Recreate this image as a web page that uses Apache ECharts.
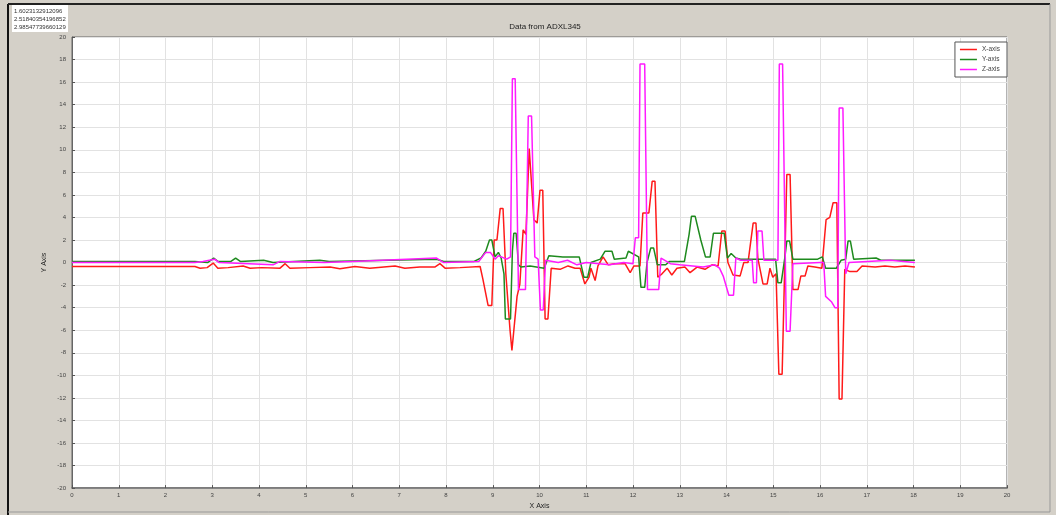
<!DOCTYPE html>
<html>
<head>
<meta charset="utf-8">
<script src="https://cdn.jsdelivr.net/npm/echarts@6/dist/echarts.min.js"></script>
<style>
  html, body { margin: 0; padding: 0; background: #d4d0c8; }
  #chart { width: 1056px; height: 515px; }
</style>
</head>
<body>
<div id="chart"></div>
<script>
var seriesNames = ['X-axis', 'Y-axis', 'Z-axis'];
var readout = ['1.6023132912096', '2.51840354196852', '2.98547739660129'];

// [time, value] pairs
var accX = [
  [0, -0.35], [2.63, -0.35], [2.74, -0.5], [2.89, -0.45], [3.02, -0.05], [3.12, -0.5],
  [3.34, -0.45], [3.66, -0.3], [3.81, -0.5], [4.06, -0.45], [4.45, -0.5], [4.56, -0.1],
  [4.66, -0.5], [5.09, -0.45], [5.52, -0.4], [5.73, -0.55], [6.05, -0.35], [6.37, -0.5],
  [6.91, -0.3], [7.12, -0.5], [7.44, -0.4], [7.76, -0.4], [7.87, -0.1], [7.98, -0.5],
  [8.3, -0.45], [8.73, -0.35], [8.79, -1.5], [8.9, -3.8], [8.98, -3.8], [9.03, 2.0],
  [9.09, 2.0], [9.16, 4.8], [9.22, 4.8], [9.28, -1.0], [9.37, -6.0], [9.41, -7.8],
  [9.45, -7.8], [9.52, -3.0], [9.58, -1.9], [9.65, 2.9], [9.71, 2.5], [9.78, 10.1],
  [9.82, 10.1], [9.88, 3.8], [9.95, 3.5], [10.01, 6.4], [10.07, 6.4], [10.12, -5.0],
  [10.18, -5.0], [10.25, -0.5], [10.44, -0.6], [10.61, -0.3], [10.76, -0.5], [10.87, -0.5],
  [10.97, -1.9], [11.06, -1.3], [11.1, -0.5], [11.19, -1.6], [11.25, -0.3], [11.36, 0.5],
  [11.47, -0.2], [11.61, -0.1], [11.83, -0.1], [11.94, -0.9], [12.02, -0.3], [12.15, -0.3],
  [12.21, 4.4], [12.34, 4.4], [12.41, 7.2], [12.47, 7.2], [12.53, -1.3], [12.62, -1.0],
  [12.73, -0.5], [12.83, -1.1], [12.94, -0.5], [13.11, -0.4], [13.22, -0.9], [13.37, -0.4],
  [13.54, -0.6], [13.69, -0.2], [13.82, -0.3], [13.9, 2.8], [13.97, 2.8], [14.03, 0.0],
  [14.14, -1.1], [14.29, -1.2], [14.37, 0.0], [14.46, 0.0], [14.57, 3.5], [14.63, 3.5],
  [14.67, 0.4], [14.78, -1.9], [14.87, -1.9], [14.93, -0.5], [14.99, -1.3], [15.06, -1.0],
  [15.12, -9.9], [15.19, -9.9], [15.25, 0.5], [15.29, 7.8], [15.36, 7.8], [15.42, -2.4],
  [15.53, -2.4], [15.59, -1.2], [15.68, -1.2], [15.74, -0.3], [15.89, -0.4], [16.04, -0.5],
  [16.13, 3.8], [16.21, 4.0], [16.28, 5.3], [16.36, 5.3], [16.41, -12.1], [16.47, -12.1],
  [16.53, -0.6], [16.64, -0.8], [16.79, -0.8], [16.9, -0.3], [17.18, -0.4], [17.39, -0.3],
  [17.6, -0.4], [17.82, -0.3], [18.03, -0.4]
];

var accY = [
  [0, 0.1], [2.63, 0.1], [2.9, 0.0], [3.03, 0.4], [3.12, 0.1], [3.4, 0.1], [3.5, 0.4],
  [3.6, 0.1], [4.1, 0.2], [4.3, 0.0], [5.3, 0.2], [5.5, 0.1], [7.8, 0.3], [7.95, 0.1],
  [8.6, 0.1], [8.75, 0.4], [8.85, 1.0], [8.93, 2.0], [8.98, 2.0], [9.05, 0.5], [9.12, 0.9],
  [9.18, 0.4], [9.24, -1.0], [9.27, -5.0], [9.38, -5.0], [9.42, 1.0], [9.45, 2.6], [9.5, 2.6],
  [9.55, -0.2], [9.6, -0.4], [9.8, -0.3], [10.1, -0.5], [10.2, 0.6], [10.5, 0.5], [10.85, 0.5],
  [10.95, -1.3], [11.03, -1.3], [11.1, 0.0], [11.3, 0.3], [11.4, 1.0], [11.55, 1.0], [11.6, 0.3],
  [11.85, 0.4], [11.9, 1.0], [12.12, 0.5], [12.17, -2.2], [12.25, -2.2], [12.3, 0.0],
  [12.38, 1.3], [12.44, 1.3], [12.52, -0.2], [12.7, -0.2], [12.78, 0.1], [13.1, 0.1],
  [13.2, 2.5], [13.25, 4.1], [13.33, 4.1], [13.45, 2.0], [13.55, 0.5], [13.65, 0.5],
  [13.72, 2.6], [13.95, 2.6], [14.02, 0.4], [14.1, 0.8], [14.2, 0.4], [14.3, 0.3],
  [15.05, 0.3], [15.1, -1.8], [15.17, -1.8], [15.25, 0.5], [15.29, 1.9], [15.35, 1.9],
  [15.42, 0.3], [15.95, 0.3], [16.05, 0.5], [16.12, -0.5], [16.35, -0.5], [16.45, 0.2],
  [16.55, 0.3], [16.6, 1.9], [16.65, 1.9], [16.72, 0.3], [17.2, 0.4], [17.3, 0.2],
  [18.03, 0.2]
];

var accZ = [
  [0, 0.0], [2.63, 0.0], [2.8, 0.1], [3.05, 0.3], [3.15, 0.0], [4.3, -0.2], [4.45, 0.1],
  [5.4, 0.0], [6.0, 0.1], [7.8, 0.4], [7.95, 0.0], [8.7, 0.1], [8.85, 0.9], [8.95, 0.9],
  [9.05, 0.3], [9.12, 0.6], [9.3, 0.3], [9.38, 0.5], [9.42, 16.3], [9.48, 16.3], [9.55, -2.4],
  [9.7, -2.4], [9.76, 13.0], [9.83, 13.0], [9.9, 0.5], [9.97, 0.3], [10.02, -4.2], [10.08, -4.2],
  [10.13, 0.2], [10.4, 0.0], [10.6, 0.2], [10.8, -0.2], [11.0, 0.0], [11.5, -0.2], [11.8, 0.0],
  [12.0, -0.1], [12.05, 2.2], [12.12, 2.2], [12.15, 17.6], [12.25, 17.6], [12.31, -2.4],
  [12.55, -2.4], [12.6, 0.4], [12.8, -0.1], [13.0, -0.2], [13.5, -0.4], [13.75, -0.2],
  [13.85, -0.5], [13.93, -1.2], [14.05, -2.9], [14.15, -2.9], [14.2, 0.4], [14.3, 0.2],
  [14.55, 0.2], [14.58, -1.8], [14.64, -1.8], [14.67, 2.8], [14.76, 2.8], [14.8, 0.2],
  [15.1, 0.2], [15.13, 17.6], [15.2, 17.6], [15.28, -6.1], [15.36, -6.1], [15.42, -0.1],
  [16.0, 0.0], [16.08, 0.0], [16.12, -3.0], [16.25, -3.5], [16.32, -4.0], [16.38, -4.0],
  [16.41, 13.7], [16.49, 13.7], [16.55, -1.0], [16.62, 0.0], [17.5, 0.2], [18.03, 0.0]
];

var seriesColors = ['#ff1a1a', '#1e8a1e', '#ff1aff'];
var seriesData = [accX, accY, accZ];

var chart = echarts.init(document.getElementById('chart'));
var tinyFont = { fontFamily: 'Liberation Sans', fontSize: 6, color: '#444' };

var option = {
  backgroundColor: '#d4d0c8',
  animation: false,
  title: {
    text: 'Data from ADXL345',
    left: 540, top: 18, textAlign: 'center',
    textStyle: { fontFamily: 'Liberation Sans', fontSize: 8, fontWeight: 'normal', color: '#222' }
  },
  legend: {
    data: seriesNames,
    orient: 'vertical',
    right: 49, top: 42,
    padding: [4, 7, 4, 5],
    itemGap: 3,
    itemWidth: 17, itemHeight: 1.5,
    icon: 'rect',
    backgroundColor: '#fff',
    borderColor: '#555', borderWidth: 1,
    textStyle: { fontFamily: 'Liberation Sans', fontSize: 6.5, color: '#444' }
  },
  grid: {
    left: 72, right: 49, top: 37, bottom: 21,
    show: true, backgroundColor: '#fff', borderColor: '#666', borderWidth: 1
  },
  xAxis: {
    type: 'value', min: 0, max: 20, interval: 1,
    name: 'X Axis', nameLocation: 'middle', nameGap: 14,
    nameTextStyle: { fontFamily: 'Liberation Sans', fontSize: 7, color: '#222' },
    axisLine: { onZero: false, lineStyle: { color: '#666', width: 1.5 } },
    axisTick: { inside: true, length: 3, lineStyle: { color: '#555' } },
    axisLabel: Object.assign({ margin: 4 }, tinyFont),
    splitLine: { lineStyle: { color: '#e2e2e2', width: 1 } }
  },
  yAxis: {
    type: 'value', min: -20, max: 20, interval: 2,
    name: 'Y Axis', nameLocation: 'middle', nameGap: 24, nameMoveOverlap: false,
    nameTextStyle: { fontFamily: 'Liberation Sans', fontSize: 7, color: '#222' },
    axisLine: { show: true, onZero: false, lineStyle: { color: '#666', width: 1 } },
    axisTick: { show: true, inside: true, length: 3, lineStyle: { color: '#555' } },
    axisLabel: Object.assign({ margin: 6 }, tinyFont),
    splitLine: { lineStyle: { color: '#e2e2e2', width: 1 } }
  },
  graphic: [
    { type: 'rect', shape: { x: 12, y: 5, width: 56, height: 27 }, style: { fill: '#fff' }, z: 10 },
    { type: 'text', left: 14, top: 7, z: 11,
      style: { text: readout.join('\n'), font: '6px "Liberation Sans"', fill: '#333', lineHeight: 8 } },
    { type: 'line', shape: { x1: 8, y1: 4, x2: 8, y2: 515 }, style: { stroke: '#111', lineWidth: 2 } },
    { type: 'line', shape: { x1: 8, y1: 4, x2: 1050, y2: 4 }, style: { stroke: '#222', lineWidth: 2 } },
    { type: 'line', shape: { x1: 1050, y1: 4, x2: 1050, y2: 512 }, style: { stroke: '#999', lineWidth: 1 } },
    { type: 'line', shape: { x1: 8, y1: 512, x2: 1050, y2: 512 }, style: { stroke: '#999', lineWidth: 1 } }
  ],
  series: seriesNames.map(function (name, i) {
    return {
      name: name,
      type: 'line',
      data: seriesData[i],
      showSymbol: false,
      color: seriesColors[i],
      lineStyle: { width: 1.5, color: seriesColors[i] }
    };
  })
};

chart.setOption(option);
</script>
</body>
</html>
